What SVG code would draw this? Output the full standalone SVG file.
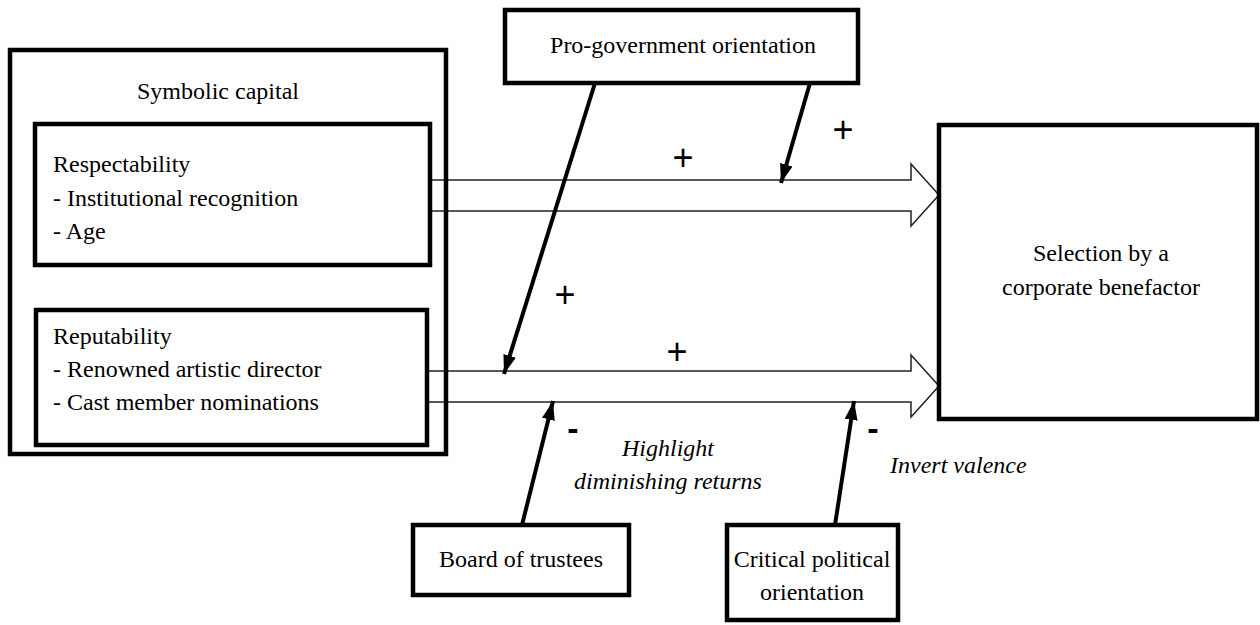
<svg xmlns="http://www.w3.org/2000/svg" width="1260" height="625" viewBox="0 0 1260 625">
<style>
.box{fill:none;stroke:#000;stroke-width:4.5}
.blk{fill:#fff;stroke:#222;stroke-width:1.5}
.ln{stroke:#000;stroke-width:4;fill:none}
.t{font-family:"Liberation Serif","Times New Roman",serif;font-size:24px;fill:#000}
.p{font-family:"Liberation Sans",Arial,sans-serif;font-size:36px;fill:#000}
.m{font-family:"Liberation Sans",Arial,sans-serif;font-size:34px;font-weight:bold;fill:#000}
</style>
<defs>
<marker id="ah" markerUnits="userSpaceOnUse" markerWidth="22" markerHeight="16" refX="19" refY="8" orient="auto">
<path d="M0,1.5 L19,8 L0,14.5 Z" fill="#000"/>
</marker>
</defs>
<rect width="1260" height="625" fill="#fff"/>
<g id="connectors">
<polygon class="blk" points="430,180 911,180 911,164 939,195 911,226 911,211 430,211"/>
<polygon class="blk" points="426,371 911,371 911,355 939,386 911,417 911,402 426,402"/>
<line class="ln" marker-end="url(#ah)" x1="595" y1="83" x2="504" y2="374"/>
<line class="ln" marker-end="url(#ah)" x1="810" y1="83" x2="781" y2="183"/>
<line class="ln" marker-end="url(#ah)" x1="522" y1="525" x2="553" y2="401"/>
<line class="ln" marker-end="url(#ah)" x1="835" y1="525" x2="854" y2="401"/>
<text class="p" x="843" y="142" text-anchor="middle">+</text>
<text class="p" x="683" y="170" text-anchor="middle">+</text>
<text class="p" x="565" y="307" text-anchor="middle">+</text>
<text class="p" x="677" y="364" text-anchor="middle">+</text>
<text class="m" x="573" y="440" text-anchor="middle">-</text>
<text class="m" x="873" y="440" text-anchor="middle">-</text>
<text class="t" x="668" y="456" text-anchor="middle" font-style="italic">Highlight</text>
<text class="t" x="668" y="489" text-anchor="middle" font-style="italic">diminishing returns</text>
<text class="t" x="890" y="473" font-style="italic">Invert valence</text>
</g>
<g id="symbolic-capital">
<rect class="box" x="10" y="50" width="436" height="404"/>
<text class="t" x="218" y="99" text-anchor="middle">Symbolic capital</text>
</g>
<g id="respectability">
<rect class="box" x="35" y="124" width="395" height="141"/>
<text class="t" x="53" y="172">Respectability</text>
<text class="t" x="53" y="206">- Institutional recognition</text>
<text class="t" x="53" y="239">- Age</text>
</g>
<g id="reputability">
<rect class="box" x="36" y="310" width="391" height="135"/>
<text class="t" x="53" y="344">Reputability</text>
<text class="t" x="53" y="377">- Renowned artistic director</text>
<text class="t" x="53" y="410">- Cast member nominations</text>
</g>
<g id="pro-government">
<rect class="box" x="505" y="10" width="353" height="73"/>
<text class="t" x="683" y="53" text-anchor="middle">Pro-government orientation</text>
</g>
<g id="selection">
<rect class="box" x="939" y="125" width="318" height="294"/>
<text class="t" x="1101" y="261" text-anchor="middle">Selection by a</text>
<text class="t" x="1101" y="295" text-anchor="middle">corporate benefactor</text>
</g>
<g id="board">
<rect class="box" x="413" y="525" width="216" height="70"/>
<text class="t" x="521" y="567" text-anchor="middle">Board of trustees</text>
</g>
<g id="critical">
<rect class="box" x="727" y="525" width="171" height="95"/>
<text class="t" x="812" y="567" text-anchor="middle">Critical political</text>
<text class="t" x="812" y="600" text-anchor="middle">orientation</text>
</g>
</svg>
